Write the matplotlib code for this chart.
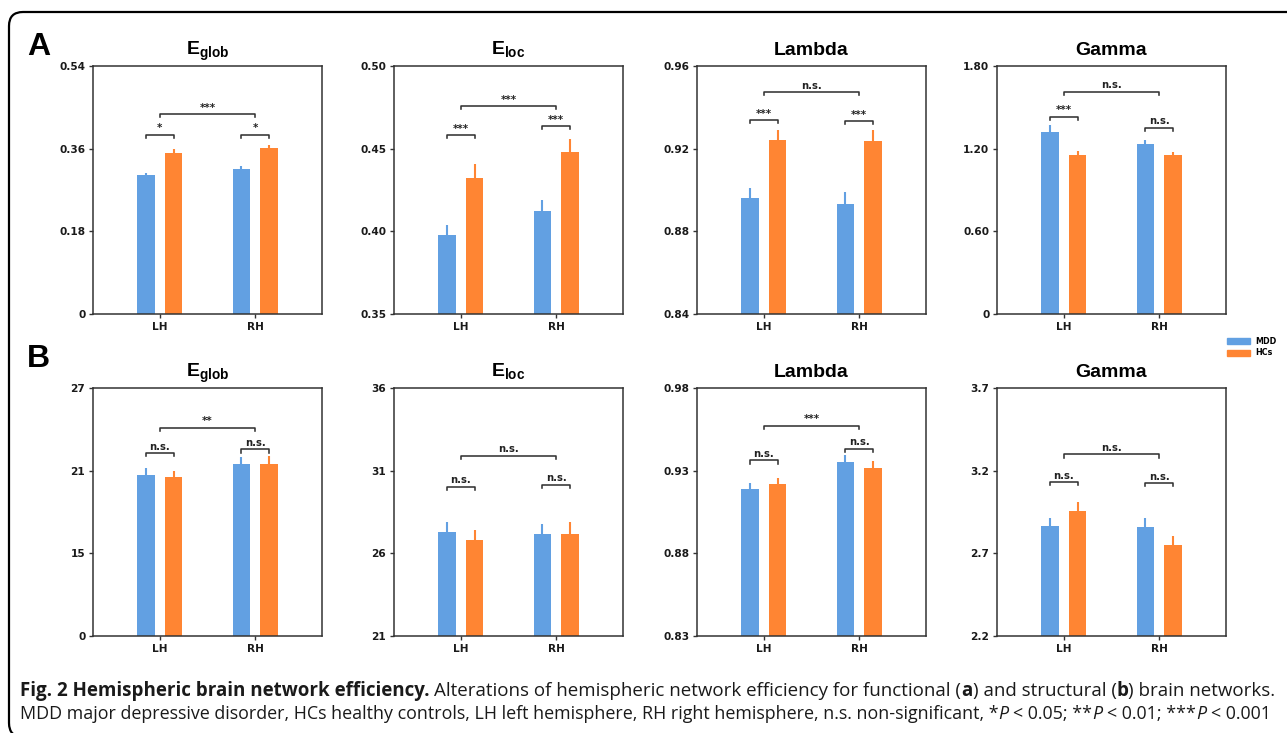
import matplotlib
matplotlib.use("Agg")
import matplotlib.pyplot as plt
import numpy as np
from matplotlib.patches import FancyBboxPatch, Patch
from matplotlib.transforms import IdentityTransform

plt.rcParams["font.family"] = "Liberation Sans"
plt.rcParams["font.weight"] = "bold"
plt.rcParams["mathtext.fontset"] = "custom"
plt.rcParams["mathtext.bf"] = "Liberation Sans:bold"
plt.rcParams["mathtext.rm"] = "Liberation Sans:bold"

# ---- data ----
HEMIS = ["LH", "RH"]
GROUPS = ["MDD", "HCs"]
TITLES = [r"$\mathbf{E}_{\mathbf{glob}}$", r"$\mathbf{E}_{\mathbf{loc}}$", "Lambda", "Gamma"]

# functional (A)
mdd_func = [[0.302, 0.315], [0.398, 0.412], [0.896, 0.893], [1.321, 1.236]]
mdd_func_err = [[0.004, 0.007], [0.006, 0.007], [0.005, 0.006], [0.050, 0.030]]
hc_func = [[0.350, 0.361], [0.432, 0.448], [0.924, 0.9235], [1.156, 1.156]]
hc_func_err = [[0.009, 0.006], [0.009, 0.008], [0.005, 0.0055], [0.025, 0.020]]
func_ticks = [[0, 0.18, 0.36, 0.54], [0.35, 0.40, 0.45, 0.50],
              [0.84, 0.88, 0.92, 0.96], [0, 0.60, 1.20, 1.80]]
func_ticklabels = [["0", "0.18", "0.36", "0.54"], ["0.35", "0.40", "0.45", "0.50"],
                   ["0.84", "0.88", "0.92", "0.96"], ["0", "0.60", "1.20", "1.80"]]
func_sig = [["*", "*", "***"], ["***", "***", "***"],
            ["***", "***", "n.s."], ["***", "n.s.", "n.s."]]
func_sig_y = [[0.390, 0.390, 0.435], [0.4583, 0.4637, 0.4758],
              [0.9339, 0.9334, 0.9474], [1.432, 1.352, 1.613]]

# structural (B)
mdd_struct = [[20.69, 21.46], [27.29, 27.17], [0.9188, 0.9352], [2.867, 2.862]]
mdd_struct_err = [[0.50, 0.50], [0.62, 0.59], [0.0040, 0.0042], [0.046, 0.050]]
hc_struct = [[20.54, 21.46], [26.83, 27.17], [0.9219, 0.9319], [2.959, 2.750]]
hc_struct_err = [[0.46, 0.60], [0.58, 0.74], [0.0034, 0.0039], [0.049, 0.052]]
struct_ticks = [[0, 15, 21, 27], [21, 26, 31, 36],
                [0.83, 0.88, 0.93, 0.98], [2.2, 2.7, 3.2, 3.7]]
struct_ticklabels = [["0", "15", "21", "27"], ["21", "26", "31", "36"],
                     ["0.83", "0.88", "0.93", "0.98"], ["2.2", "2.7", "3.2", "3.7"]]
struct_sig = [["n.s.", "n.s.", "**"], ["n.s.", "n.s.", "n.s."],
              ["n.s.", "n.s.", "***"], ["n.s.", "n.s.", "n.s."]]
struct_sig_y = [[22.28, 22.54, 24.12], [30.03, 30.15, 31.9],
                [0.9362, 0.9434, 0.9572], [3.131, 3.125, 3.299]]

# ---- style ----
MDD_COLOR = "#62a0e2"
HC_COLOR = "#ff8533"
SPINE = "#333333"
SMALL_FONT = "DejaVu Sans"
BAR_W = 0.18
OFFSET = 0.145
W, H = 1287, 733
COL_LEFT = [93, 394, 697, 997]
AX_W = 229
ROW_TOP = [66, 388]
AX_H = 248


def broken_fwd(v):
    v = np.asarray(v, dtype=float)
    return np.where(v < 15, v / 15.0, 1 + (v - 15) / 6.0)


def broken_inv(p):
    p = np.asarray(p, dtype=float)
    return np.where(p < 1, p * 15.0, 15 + (p - 1) * 6.0)


def bracket(ax, x0, x1, y, label):
    yax = ax.transAxes.inverted().transform(ax.transData.transform((0, y)))[1]
    tr = ax.get_xaxis_transform()
    drop = 0.013
    ax.plot([x0, x0, x1, x1], [yax - drop, yax, yax, yax - drop], transform=tr,
            color=SPINE, lw=1.15, clip_on=False, zorder=4)
    ax.annotate(label, xy=((x0 + x1) / 2, yax), xycoords=tr, xytext=(0, 1.0),
                textcoords="offset points", ha="center", va="bottom",
                fontsize=7.2, fontweight="bold", family=SMALL_FONT, color="#222222")


def draw_panel(ax, title, mdd, mdd_err, hc, hc_err, ticks, ticklabels, sig, sig_y,
               broken=False):
    x = np.arange(len(HEMIS))
    if broken:
        ax.set_yscale("function", functions=(broken_fwd, broken_inv))
    ax.bar(x - OFFSET, mdd, BAR_W, color=MDD_COLOR, zorder=2)
    ax.bar(x + OFFSET, hc, BAR_W, color=HC_COLOR, zorder=2)
    ax.errorbar(x - OFFSET, mdd, yerr=[np.zeros(len(x)), mdd_err], fmt="none",
                ecolor=MDD_COLOR, elinewidth=1.5, capsize=0, zorder=3)
    ax.errorbar(x + OFFSET, hc, yerr=[np.zeros(len(x)), hc_err], fmt="none",
                ecolor=HC_COLOR, elinewidth=1.5, capsize=0, zorder=3)
    ax.set_xlim(-0.7, 1.7)
    ax.set_ylim(ticks[0], ticks[-1])
    ax.set_yticks(ticks)
    ax.set_yticklabels(ticklabels)
    ax.yaxis.set_minor_locator(matplotlib.ticker.NullLocator())
    ax.set_xticks(x)
    ax.set_xticklabels(HEMIS)
    ax.tick_params(axis="both", length=3, width=1.0, color=SPINE, labelsize=7.6, pad=2.5)
    for lab in ax.get_xticklabels() + ax.get_yticklabels():
        lab.set_family(SMALL_FONT)
        lab.set_fontweight("bold")
        lab.set_color("#1a1a1a")
    for s in ax.spines.values():
        s.set_color(SPINE)
        s.set_linewidth(1.1)
    ax.set_title(title, fontsize=14, fontweight="bold", pad=8)

    bracket(ax, -OFFSET, OFFSET, sig_y[0], sig[0])
    bracket(ax, 1 - OFFSET, 1 + OFFSET, sig_y[1], sig[1])
    bracket(ax, 0, 1, sig_y[2], sig[2])


fig = plt.figure(figsize=(W / 100, H / 100), dpi=100)

rows = [
    (mdd_func, mdd_func_err, hc_func, hc_func_err, func_ticks, func_ticklabels, func_sig, func_sig_y),
    (mdd_struct, mdd_struct_err, hc_struct, hc_struct_err, struct_ticks, struct_ticklabels, struct_sig, struct_sig_y),
]
for r, row in enumerate(rows):
    mdd, mdd_err, hc, hc_err, ticks, tlabels, sig, sig_y = row
    for c in range(4):
        rect = [COL_LEFT[c] / W, (H - ROW_TOP[r] - AX_H) / H, AX_W / W, AX_H / H]
        ax = fig.add_axes(rect)
        draw_panel(ax, TITLES[c], mdd[c], mdd_err[c], hc[c], hc_err[c], ticks[c],
                   tlabels[c], sig[c], sig_y[c], broken=(r == 1 and c == 0))

fig.text(27 / W, 1 - 55 / H, "A", fontsize=23, fontweight="bold", va="baseline")
fig.text(27 / W, 1 - 367 / H, "B", fontsize=23, fontweight="bold", va="baseline")

handles = [Patch(color=MDD_COLOR), Patch(color=HC_COLOR)]
fig.legend(handles, GROUPS, loc="upper left", bbox_to_anchor=(1227 / W, 1 - 337 / H),
           frameon=False, prop={"size": 5.8, "weight": "bold", "family": SMALL_FONT},
           handlelength=2.9, handleheight=0.75, labelspacing=0.3, borderpad=0,
           borderaxespad=0, handletextpad=0.6)

# outer frame (open on the right and bottom)
frame = FancyBboxPatch((9, -4), 2000, 725, boxstyle="round,pad=0,rounding_size=14",
                       transform=IdentityTransform(), fill=False, lw=1.6, ec="black")
fig.patches.append(frame)

# caption
renderer = fig.canvas.get_renderer()
CAP_FONT = "Open Sans"
line1 = [("Fig. 2 Hemispheric brain network efficiency.", "bold", "normal"),
         (" Alterations of hemispheric network efficiency for functional (", "normal", "normal"),
         ("a", "bold", "normal"),
         (") and structural (", "normal", "normal"),
         ("b", "bold", "normal"),
         (") brain networks.", "normal", "normal")]
line2 = [("MDD major depressive disorder, HCs healthy controls, LH left hemisphere, "
          "RH right hemisphere, n.s. non-significant, *", "normal", "normal"),
         ("P", "normal", "italic"),
         (" < 0.05; **", "normal", "normal"),
         ("P", "normal", "italic"),
         (" < 0.01; ***", "normal", "normal"),
         ("P", "normal", "italic"),
         (" < 0.001", "normal", "normal")]


def measure(s, size, weight, style):
    t = fig.text(0, 0, s.strip(), fontsize=size, fontweight=weight, fontstyle=style,
                 family=CAP_FONT)
    w = t.get_window_extent(renderer).width
    t.remove()
    return w


def run_width(pieces, size):
    space = measure("a a", size, "normal", "normal") - measure("aa", size, "normal", "normal")
    total = 0
    for s, wgt, sty in pieces:
        if s.startswith(" "):
            total += space
        total += measure(s, size, wgt, sty)
        if s.endswith(" "):
            total += space
    return total, space


def place_run(pieces, x0, x1, baseline):
    w10, _ = run_width(pieces, 10)
    size = 10 * (x1 - x0) / w10
    _, space = run_width(pieces, size)
    x = x0
    for s, wgt, sty in pieces:
        if s.startswith(" "):
            x += space
        fig.text(x / W, 1 - baseline / H, s.strip(), fontsize=size, fontweight=wgt,
                 fontstyle=sty, family=CAP_FONT, va="baseline", color="#1a1a1a")
        x += measure(s, size, wgt, sty)
        if s.endswith(" "):
            x += space


place_run(line1, 20, 1276, 696)
place_run(line2, 20, 1276, 719)

fig.savefig("out.png", dpi=100)
